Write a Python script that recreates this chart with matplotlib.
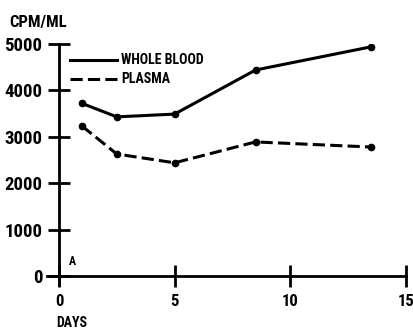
import matplotlib
matplotlib.use("Agg")
import matplotlib.pyplot as plt

days = [1, 2.5, 5, 8.5, 13.5]
whole_blood = [3720, 3430, 3490, 4440, 4940]
plasma = [3230, 2630, 2440, 2890, 2780]

x_ticks = [0, 5, 10, 15]
y_ticks = [0, 1000, 2000, 3000, 4000, 5000]

fuente = dict(family=["Liberation Sans Narrow", "Roboto Condensed", "DejaVu Sans"],
              weight="bold", stretch="condensed")

fig = plt.figure(figsize=(4.14, 3.31), dpi=100)
ax = fig.add_axes([0.1145, 0.138, 0.8686, 0.729])

# Series.
ax.plot(days, whole_blood, "-", color="black", lw=2.2, marker="o", ms=4.5)
ax.plot(days, plasma, color="black", lw=2.2, marker="o", ms=4.5, dashes=(4, 1.7))

ax.set_xlim(-0.5, 15.05)
ax.set_ylim(-200, 5000)

# Ejes que se cruzan en el origen.
for lado in ["top", "right"]:
    ax.spines[lado].set_visible(False)
ax.spines["left"].set_position(("data", 0))
ax.spines["bottom"].set_position(("data", 0))
ax.spines["left"].set_bounds(-200, 5000)
ax.spines["bottom"].set_bounds(-0.5, 15)
for lado in ["left", "bottom"]:
    ax.spines[lado].set_linewidth(2.0)

ax.set_xticks(x_ticks)
ax.set_yticks(y_ticks)
ax.tick_params(direction="inout", length=16, width=2.0, color="black")
ax.tick_params(axis="x", pad=5)
ax.tick_params(axis="y", pad=4)
for lbl in ax.get_xticklabels() + ax.get_yticklabels():
    lbl.set_fontfamily(fuente["family"])
    lbl.set_fontweight("bold")
    lbl.set_fontstretch("condensed")
for lbl in ax.get_yticklabels():
    lbl.set_fontsize(13.5)
for lbl in ax.get_xticklabels():
    lbl.set_fontsize(12)

# Leyenda dibujada a mano.
ax.plot([0.47, 2.5], [4650, 4650], "-", color="black", lw=2.2)
ax.plot([0.47, 2.5], [4250, 4250], color="black", lw=2.2, dashes=(4, 1.7))
ax.text(2.7, 4650, "WHOLE BLOOD", va="center", ha="left", fontsize=10, **fuente)
ax.text(2.7, 4250, "PLASMA", va="center", ha="left", fontsize=10, **fuente)

fig.text(9 / 414, 1 - 22 / 331, "CPM/ML", va="center", ha="left", fontsize=12, **fuente)
fig.text(56 / 414, 1 - 323 / 331, "DAYS", va="center", ha="left", fontsize=10, **fuente)
ax.text(0.45, 310, "A", va="center", ha="left", fontsize=8.5, **fuente)

fig.savefig("out.png", dpi=100)
